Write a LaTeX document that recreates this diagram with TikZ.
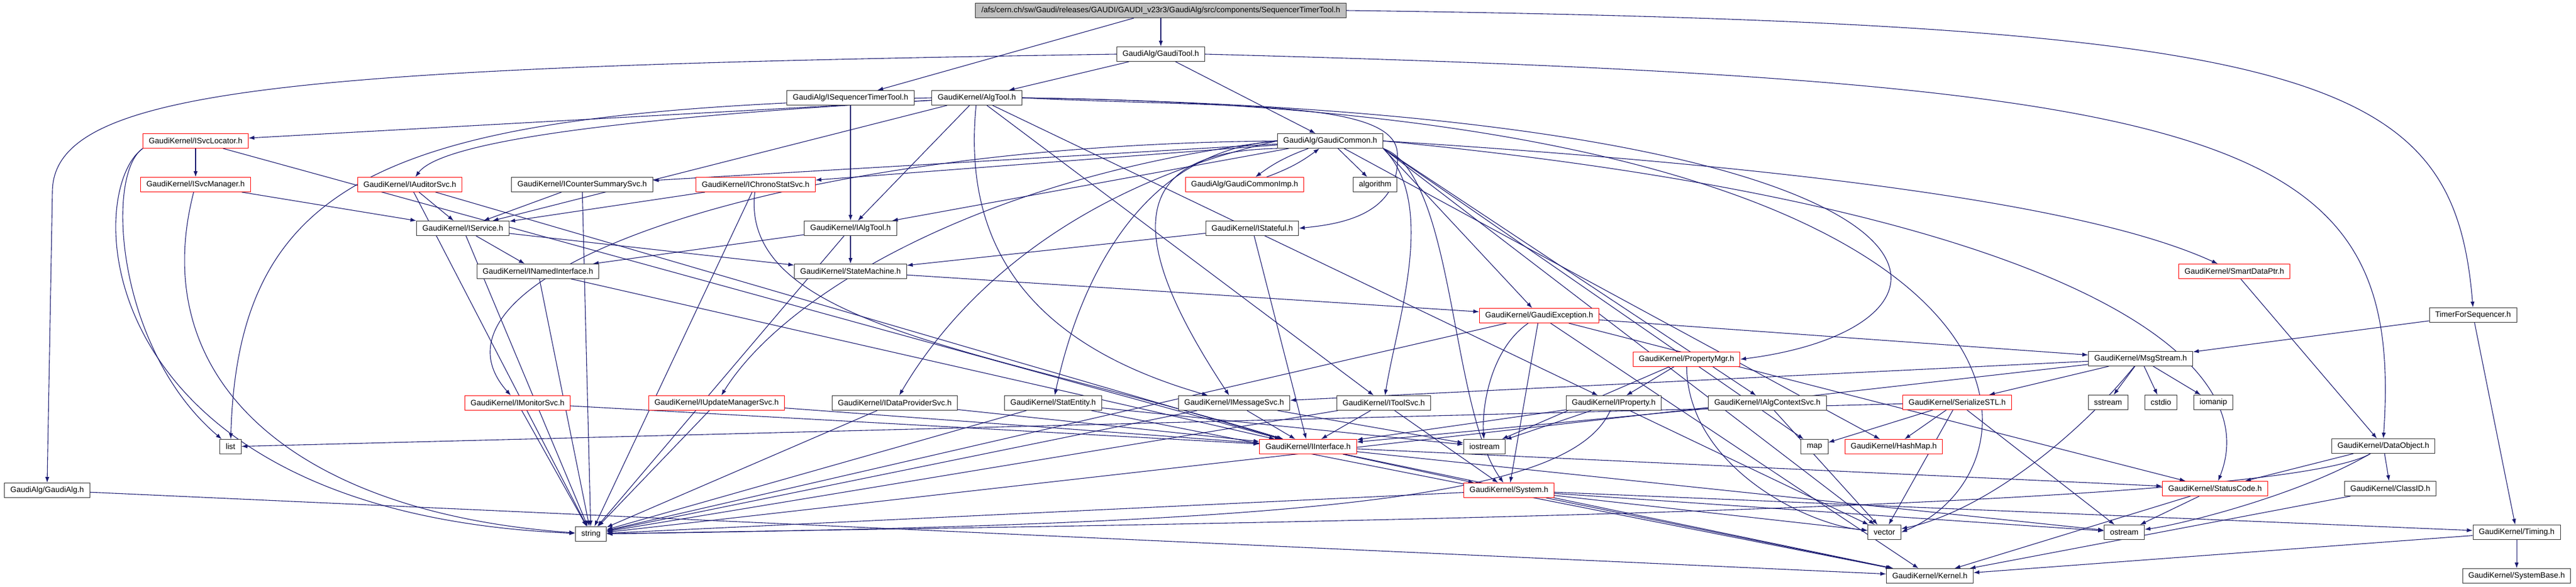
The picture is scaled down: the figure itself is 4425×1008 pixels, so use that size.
\documentclass[tikz,border=0pt]{standalone}
\usepackage{fontspec}
\setmainfont{Liberation Sans}
\usepackage{tikz}
\usepackage{xcolor}
\usetikzlibrary{arrows.meta, backgrounds}
\definecolor{edgeblue}{RGB}{25,25,112}

\begin{document}
\begin{tikzpicture}[x = 1pt, y = -1pt,
  hdr/.style = {draw = black!80, line width = 1pt, fill = white, inner xsep = 10pt, inner ysep = 0pt, minimum height = 25pt, font = \fontsize{13.5}{16}\selectfont},
  trunc/.style = {hdr, draw = red},
  root/.style = {hdr, fill = black!25},
  dep/.style = {draw = edgeblue, line width = 1.1pt, -{Latex[length = 10pt, width = 7pt]}}]
  \useasboundingbox (0, 0) rectangle (4425, 1008);
  % rows of headers
  \node[root] (main) at (1994, 18) {/afs/cern.ch/sw/Gaudi/releases/GAUDI/GAUDI\_v23r3/GaudiAlg/src/components/SequencerTimerTool.h};
  \node[hdr] (gaudiTool) at (1994, 93) {GaudiAlg/GaudiTool.h};
  \node[hdr] (iSeqTimer) at (1461, 168) {GaudiAlg/ISequencerTimerTool.h};
  \node[hdr] (algTool) at (1678, 168) {GaudiKernel/AlgTool.h};
  \node[trunc] (iSvcLoc) at (336, 242) {GaudiKernel/ISvcLocator.h};
  \node[hdr] (gaudiCommon) at (2285, 242) {GaudiAlg/GaudiCommon.h};
  \node[trunc] (iSvcMgr) at (336, 317) {GaudiKernel/ISvcManager.h};
  \node[trunc] (iAuditor) at (704, 317) {GaudiKernel/IAuditorSvc.h};
  \node[hdr] (iCounter) at (1000, 317) {GaudiKernel/ICounterSummarySvc.h};
  \node[trunc] (iChrono) at (1298, 317) {GaudiKernel/IChronoStatSvc.h};
  \node[trunc] (commonImp) at (2138, 317) {GaudiAlg/GaudiCommonImp.h};
  \node[hdr] (algorithm) at (2362, 317) {algorithm};
  \node[hdr] (iService) at (795, 392) {GaudiKernel/IService.h};
  \node[hdr] (iAlgTool) at (1461, 392) {GaudiKernel/IAlgTool.h};
  \node[hdr] (iStateful) at (2151, 392) {GaudiKernel/IStateful.h};
  \node[hdr] (iNamed) at (924, 466) {GaudiKernel/INamedInterface.h};
  \node[hdr] (stateMach) at (1461, 466) {GaudiKernel/StateMachine.h};
  \node[trunc] (smartPtr) at (3838, 466) {GaudiKernel/SmartDataPtr.h};
  \node[trunc] (gaudiExc) at (2644, 542) {GaudiKernel/GaudiException.h};
  \node[hdr] (timerSeq) at (4248, 541) {TimerForSequencer.h};
  \node[trunc] (propMgr) at (2897, 617) {GaudiKernel/PropertyMgr.h};
  \node[hdr] (msgStream) at (3677, 616) {GaudiKernel/MsgStream.h};
  \node[trunc] (iMonitor) at (889, 692) {GaudiKernel/IMonitorSvc.h};
  \node[trunc] (iUpdMgr) at (1231, 692) {GaudiKernel/IUpdateManagerSvc.h};
  \node[hdr] (iDataProv) at (1537, 692) {GaudiKernel/IDataProviderSvc.h};
  \node[hdr] (statEntity) at (1809, 692) {GaudiKernel/StatEntity.h};
  \node[hdr] (iMsgSvc) at (2120, 692) {GaudiKernel/IMessageSvc.h};
  \node[hdr] (iToolSvc) at (2377, 692) {GaudiKernel/IToolSvc.h};
  \node[hdr] (iProperty) at (2772, 692) {GaudiKernel/IProperty.h};
  \node[hdr] (iAlgCtx) at (3036, 692) {GaudiKernel/IAlgContextSvc.h};
  \node[trunc] (serialSTL) at (3362, 691) {GaudiKernel/SerializeSTL.h};
  \node[hdr] (sstream) at (3621, 691) {sstream};
  \node[hdr] (cstdio) at (3712, 691) {cstdio};
  \node[hdr] (iomanip) at (3802, 691) {iomanip};
  \node[hdr] (list) at (396, 767) {list};
  \node[trunc] (iInterface) at (2247, 767) {GaudiKernel/IInterface.h};
  \node[hdr] (iostream) at (2550, 767) {iostream};
  \node[hdr] (map) at (3117, 767) {map};
  \node[trunc] (hashMap) at (3253, 767) {GaudiKernel/HashMap.h};
  \node[hdr] (dataObj) at (4094, 766) {GaudiKernel/DataObject.h};
  \node[hdr] (gaudiAlg) at (81, 842) {GaudiAlg/GaudiAlg.h};
  \node[trunc] (system) at (2592, 842) {GaudiKernel/System.h};
  \node[trunc] (statusCode) at (3805, 839) {GaudiKernel/StatusCode.h};
  \node[hdr] (classID) at (4106, 839) {GaudiKernel/ClassID.h};
  \node[hdr] (string) at (1015, 917) {string};
  \node[hdr] (vector) at (3237, 914) {vector};
  \node[hdr] (ostream) at (3649, 914) {ostream};
  \node[hdr] (timing) at (4323, 914) {GaudiKernel/Timing.h};
  \node[hdr] (kernel) at (3315, 989) {GaudiKernel/Kernel.h};
  \node[hdr] (sysBase) at (4323, 989) {GaudiKernel/SystemBase.h};

  \begin{pgfonlayer}{background}
  % SequencerTimerTool.h
  \draw[dep] (main) -- (gaudiTool);
  \draw[dep] (main) -- (iSeqTimer);
  \draw[dep] (main.east) .. controls (4000, 40) and (4215, 130) .. (timerSeq.north);
  % GaudiTool.h
  \draw[dep] (gaudiTool) -- (algTool);
  \draw[dep] (gaudiTool) -- (gaudiCommon);
  \draw[dep] (gaudiTool.west) .. controls (500, 115) and (90, 150) .. (90, 330) -- (gaudiAlg.north);
  \draw[dep] (gaudiTool.east) .. controls (3850, 140) and (4130, 230) .. (dataObj.north);
  \draw[dep] (iSeqTimer) -- (iAlgTool);
  % AlgTool.h
  \draw[dep] (algTool) -- (iAlgTool);
  \draw[dep] (algTool) -- (iSvcLoc);
  \draw[dep] (algTool) .. controls (1100, 200) and (760, 240) .. (iAuditor);
  \draw[dep] (algTool) -- (iService);
  \draw[dep] (algTool.east) .. controls (2100, 185) and (2390, 170) .. (2400, 260) .. controls (2410, 370) and (2300, 385) .. (iStateful.east);
  \draw[dep] (algTool.west) .. controls (700, 190) and (410, 280) .. (list);
  \draw[dep] (algTool.east) .. controls (3442, 195) and (3442, 560) .. (propMgr.east);
  \draw[dep] (algTool.east) .. controls (3560, 190) and (3540, 800) .. (vector.east);
  \draw[dep] (algTool) -- (iProperty);
  \draw[dep] (algTool) -- (iToolSvc);
  \draw[dep] (algTool) .. controls (1650, 450) and (1800, 600) .. (iMsgSvc);
  % service interfaces
  \draw[dep] (iSvcLoc) -- (iSvcMgr);
  \draw[dep] (iSvcLoc) -- (iInterface);
  \draw[dep] (iSvcLoc.south west) .. controls (180, 300) and (200, 600) .. (list);
  \draw[dep] (iSvcLoc.south west) .. controls (140, 330) and (150, 880) .. (string);
  \draw[dep] (iSvcMgr) -- (iService);
  \draw[dep] (iSvcMgr) .. controls (250, 650) and (500, 880) .. (string);
  \draw[dep] (iAuditor) -- (iService);
  \draw[dep] (iAuditor) -- (string);
  \draw[dep] (iAuditor) -- (iInterface);
  \draw[dep] (iCounter) -- (iService);
  \draw[dep] (iCounter) -- (string);
  \draw[dep] (iChrono) -- (iService);
  \draw[dep] (iChrono) -- (string);
  \draw[dep] (iChrono) .. controls (1270, 560) and (1700, 600) .. (iInterface);
  \draw[dep] (iService) -- (iNamed);
  \draw[dep] (iService) -- (stateMach);
  \draw[dep] (iService) -- (string);
  \draw[dep] (iAlgTool) -- (iNamed);
  \draw[dep] (iAlgTool) -- (stateMach);
  \draw[dep] (iAlgTool) -- (string);
  \draw[dep] (iStateful) -- (stateMach);
  \draw[dep] (iStateful) -- (iInterface);
  \draw[dep] (iNamed) -- (iInterface);
  \draw[dep] (iNamed) -- (string);
  \draw[dep] (stateMach) -- (gaudiExc);
  % GaudiCommon.h
  \draw[dep] (gaudiCommon) to[bend right = 8] (commonImp);
  \draw[dep] (commonImp) to[bend right = 8] (gaudiCommon);
  \draw[dep] (gaudiCommon) -- (algorithm);
  \draw[dep] (gaudiCommon) -- (iCounter);
  \draw[dep] (gaudiCommon) -- (iChrono);
  \draw[dep] (gaudiCommon) -- (iAlgTool);
  \draw[dep] (gaudiCommon.west) .. controls (1300, 250) and (700, 480) .. (iMonitor);
  \draw[dep] (gaudiCommon.west) .. controls (1700, 300) and (1350, 500) .. (iUpdMgr);
  \draw[dep] (gaudiCommon.west) .. controls (1850, 320) and (1650, 500) .. (iDataProv);
  \draw[dep] (gaudiCommon.west) .. controls (1950, 260) and (1850, 500) .. (statEntity);
  \draw[dep] (gaudiCommon.south west) .. controls (1900, 260) and (1960, 450) .. (iMsgSvc);
  \draw[dep] (gaudiCommon.south east) .. controls (2470, 350) and (2400, 550) .. (iToolSvc);
  \draw[dep] (gaudiCommon.south east) -- (iAlgCtx);
  \draw[dep] (gaudiCommon.east) .. controls (3300, 300) and (3650, 380) .. (smartPtr);
  \draw[dep] (gaudiCommon.south east) -- (gaudiExc);
  \draw[dep] (gaudiCommon.south east) -- (map);
  \draw[dep] (gaudiCommon) -- (hashMap);
  \draw[dep] (gaudiCommon.south east) .. controls (2500, 300) and (2490, 700) .. (system);
  \draw[dep] (gaudiCommon.east) .. controls (3500, 350) and (3900, 600) .. (statusCode);
  \draw[dep] (gaudiCommon.south east) -- (vector);
  \draw[dep] (smartPtr) -- (dataObj);
  % GaudiException.h
  \draw[dep] (gaudiExc) -- (msgStream);
  \draw[dep] (gaudiExc) -- (statusCode);
  \draw[dep] (gaudiExc) -- (system);
  \draw[dep] (gaudiExc) .. controls (2560, 600) and (2545, 700) .. (iostream);
  \draw[dep] (gaudiExc) -- (string);
  \draw[dep] (gaudiExc) -- (kernel);
  \draw[dep] (timerSeq) -- (msgStream);
  \draw[dep] (timerSeq) -- (timing);
  \draw[dep] (propMgr) -- (iProperty);
  \draw[dep] (propMgr) -- (iostream);
  \draw[dep] (propMgr) .. controls (2900, 800) and (3100, 900) .. (vector);
  % MsgStream.h
  \draw[dep] (msgStream) -- (serialSTL);
  \draw[dep] (msgStream) -- (sstream);
  \draw[dep] (msgStream) -- (cstdio);
  \draw[dep] (msgStream) -- (iomanip);
  \draw[dep] (msgStream) -- (iMsgSvc);
  \draw[dep] (msgStream) .. controls (3560, 760) and (3400, 880) .. (vector);
  \draw[dep] (msgStream) -- (string);
  % lower interfaces
  \draw[dep] (iMonitor) -- (iInterface);
  \draw[dep] (iMonitor) -- (string);
  \draw[dep] (iUpdMgr) -- (iInterface);
  \draw[dep] (iUpdMgr) -- (string);
  \draw[dep] (iDataProv) -- (iInterface);
  \draw[dep] (iDataProv) -- (string);
  \draw[dep] (statEntity) -- (string);
  \draw[dep] (statEntity) -- (iostream);
  \draw[dep] (statEntity) -- (kernel);
  \draw[dep] (iMsgSvc) -- (iInterface);
  \draw[dep] (iMsgSvc) -- (string);
  \draw[dep] (iMsgSvc) -- (iostream);
  \draw[dep] (iToolSvc) -- (iInterface);
  \draw[dep] (iToolSvc) -- (string);
  \draw[dep] (iToolSvc) -- (system);
  \draw[dep] (iProperty) -- (iInterface);
  \draw[dep] (iProperty) -- (iostream);
  \draw[dep] (iProperty) .. controls (2700, 850) and (2300, 900) .. (string);
  \draw[dep] (iProperty) -- (vector);
  \draw[dep] (iAlgCtx) -- (iInterface);
  \draw[dep] (iAlgCtx) -- (vector);
  \draw[dep] (serialSTL) -- (list);
  \draw[dep] (serialSTL) -- (map);
  \draw[dep] (serialSTL) -- (hashMap);
  \draw[dep] (serialSTL) -- (vector);
  \draw[dep] (serialSTL) -- (ostream);
  % bottom of the graph
  \draw[dep] (iInterface) -- (system);
  \draw[dep] (iInterface) -- (statusCode);
  \draw[dep] (iInterface) -- (kernel);
  \draw[dep] (iInterface) -- (ostream);
  \draw[dep] (dataObj) -- (statusCode);
  \draw[dep] (dataObj) -- (classID);
  \draw[dep] (dataObj) .. controls (3950, 850) and (3750, 900) .. (ostream);
  \draw[dep] (dataObj) .. controls (3900, 880) and (2000, 900) .. (string);
  \draw[dep] (system) -- (string);
  \draw[dep] (system) -- (vector);
  \draw[dep] (system) -- (kernel);
  \draw[dep] (system) -- (timing);
  \draw[dep] (system) -- (ostream);
  \draw[dep] (statusCode) -- (ostream);
  \draw[dep] (statusCode) -- (kernel);
  \draw[dep] (classID) -- (kernel);
  \draw[dep] (timing) -- (kernel);
  \draw[dep] (timing) -- (sysBase);
  \draw[dep] (gaudiAlg) -- (kernel);
  \end{pgfonlayer}
\end{tikzpicture}
\end{document}
